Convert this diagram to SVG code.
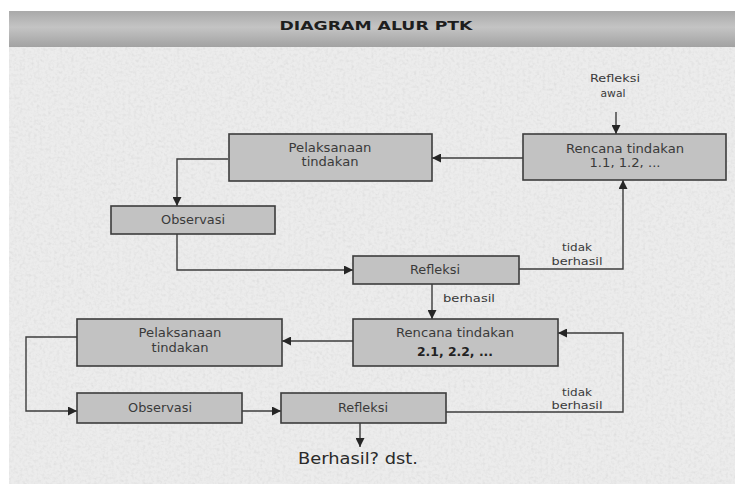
<svg xmlns="http://www.w3.org/2000/svg" width="735" height="484" viewBox="0 0 735 484">
  <defs>
    <linearGradient id="titleGrad" x1="0" y1="0" x2="0" y2="1">
      <stop offset="0" stop-color="#a9a9a9"/>
      <stop offset="0.45" stop-color="#c4c4c4"/>
      <stop offset="1" stop-color="#a2a2a2"/>
    </linearGradient>
    <filter id="noise" x="0" y="0" width="100%" height="100%">
      <feTurbulence type="fractalNoise" baseFrequency="0.35" numOctaves="2" seed="3" result="t"/>
      <feColorMatrix type="matrix" values="0 0 0 0 0.5  0 0 0 0 0.5  0 0 0 0 0.5  0.9 0.9 0.9 0 -1.2" />
    </filter>
    <marker id="arrow" viewBox="0 0 10 10" refX="10" refY="5" markerWidth="9" markerHeight="9" markerUnits="userSpaceOnUse" orient="auto">
      <path d="M0,0 L10,5 L0,10 z" fill="#262626"/>
    </marker>
    <style>
      .box { fill: #c2c2c2; stroke: #3c3c3c; stroke-width: 1.6; }
      .lbl { font-family: "DejaVu Sans", Verdana, sans-serif; font-size: 12px; fill: #3a3a3a; text-anchor: middle; }
      .small { font-family: "DejaVu Sans", Verdana, sans-serif; font-size: 11px; fill: #3a3a3a; text-anchor: middle; }
      .bold { font-weight: bold; fill: #222; }
      .conn { fill: none; stroke: #3c3c3c; stroke-width: 1.4; }
      .arr { marker-end: url(#arrow); }
    </style>
  </defs>

  <!-- background -->
  <rect x="0" y="0" width="735" height="484" fill="#ffffff"/>
  <rect x="9" y="47" width="726" height="437" fill="#ececec"/>
  <rect x="9" y="47" width="726" height="437" filter="url(#noise)" opacity="0.3"/>
  <rect x="9" y="11" width="726" height="36" fill="url(#titleGrad)"/>
  <text x="376" y="30" font-family="DejaVu Sans, Verdana, sans-serif" font-size="13" font-weight="bold" fill="#1e1e1e" text-anchor="middle" textLength="193" lengthAdjust="spacingAndGlyphs">DIAGRAM ALUR PTK</text>

  <!-- connectors -->
  <g id="connectors">
    <line class="conn arr" x1="616" y1="112" x2="616" y2="134"/>
    <line class="conn arr" x1="523" y1="158" x2="432" y2="158"/>
    <polyline class="conn arr" points="228,159 177,159 177,206"/>
    <polyline class="conn arr" points="177,234 177,270 353,270"/>
    <polyline class="conn arr" points="519,269 623,269 623,180"/>
    <line class="conn arr" x1="432" y1="284" x2="432" y2="319"/>
    <line class="conn arr" x1="353" y1="341" x2="282" y2="341"/>
    <polyline class="conn arr" points="77,337 26,337 26,411 77,411"/>
    <line class="conn arr" x1="242" y1="411" x2="281" y2="411"/>
    <polyline class="conn arr" points="446,412 623,412 623,333 558,333"/>
    <line class="conn arr" x1="360" y1="423" x2="360" y2="447"/>
    <text class="small" x="577" y="251" textLength="30" lengthAdjust="spacingAndGlyphs">tidak</text>
    <text class="small" x="577" y="265" textLength="51" lengthAdjust="spacingAndGlyphs">berhasil</text>
    <text class="small" x="443" y="302" style="text-anchor:start" textLength="52" lengthAdjust="spacingAndGlyphs">berhasil</text>
    <text class="small" x="577" y="396" textLength="30" lengthAdjust="spacingAndGlyphs">tidak</text>
    <text class="small" x="577" y="409" textLength="51" lengthAdjust="spacingAndGlyphs">berhasil</text>
  </g>

  <g id="refleksi-awal">
    <text class="small" x="615" y="82" textLength="50" lengthAdjust="spacingAndGlyphs">Refleksi</text>
    <text class="small" x="613" y="97" textLength="25" lengthAdjust="spacingAndGlyphs">awal</text>
  </g>

  <g id="rencana1">
    <rect class="box" x="523" y="134" width="203" height="46"/>
    <text class="lbl" x="625" y="153" textLength="118" lengthAdjust="spacingAndGlyphs">Rencana tindakan</text>
    <text class="lbl" x="625" y="167" textLength="71" lengthAdjust="spacingAndGlyphs">1.1, 1.2, ...</text>
  </g>

  <g id="pelaksanaan1">
    <rect class="box" x="229" y="134" width="203" height="47"/>
    <text class="lbl" x="330" y="152" textLength="83" lengthAdjust="spacingAndGlyphs">Pelaksanaan</text>
    <text class="lbl" x="330" y="166" textLength="57" lengthAdjust="spacingAndGlyphs">tindakan</text>
  </g>

  <g id="observasi1">
    <rect class="box" x="111" y="206" width="164" height="28"/>
    <text class="lbl" x="193" y="224" textLength="64" lengthAdjust="spacingAndGlyphs">Observasi</text>
  </g>

  <g id="refleksi1">
    <rect class="box" x="353" y="256" width="166" height="28"/>
    <text class="lbl" x="435" y="274" textLength="50" lengthAdjust="spacingAndGlyphs">Refleksi</text>
  </g>

  <g id="rencana2">
    <rect class="box" x="353" y="319" width="205" height="47"/>
    <text class="lbl" x="455" y="337" textLength="118" lengthAdjust="spacingAndGlyphs">Rencana tindakan</text>
    <text class="lbl bold" x="455" y="356" textLength="76" lengthAdjust="spacingAndGlyphs">2.1, 2.2, ...</text>
  </g>

  <g id="pelaksanaan2">
    <rect class="box" x="77" y="319" width="205" height="47"/>
    <text class="lbl" x="180" y="337" textLength="83" lengthAdjust="spacingAndGlyphs">Pelaksanaan</text>
    <text class="lbl" x="180" y="352" textLength="57" lengthAdjust="spacingAndGlyphs">tindakan</text>
  </g>

  <g id="observasi2">
    <rect class="box" x="77" y="393" width="165" height="30"/>
    <text class="lbl" x="160" y="412" textLength="64" lengthAdjust="spacingAndGlyphs">Observasi</text>
  </g>

  <g id="refleksi2">
    <rect class="box" x="281" y="393" width="165" height="30"/>
    <text class="lbl" x="363" y="412" textLength="50" lengthAdjust="spacingAndGlyphs">Refleksi</text>
  </g>

  <g id="berhasil-dst">
    <text x="358" y="464" font-family="DejaVu Sans, Verdana, sans-serif" font-size="15" fill="#2a2a2a" text-anchor="middle" textLength="120" lengthAdjust="spacingAndGlyphs">Berhasil? dst.</text>
  </g>
</svg>
